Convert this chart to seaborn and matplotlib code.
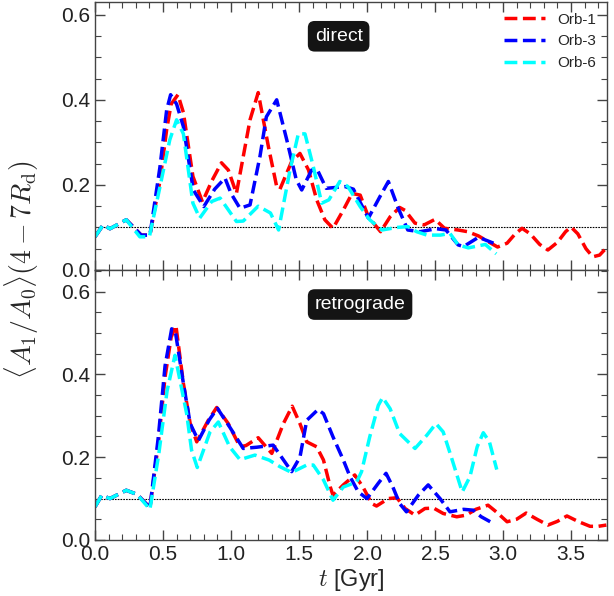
import numpy as np
import pandas as pd
import matplotlib
matplotlib.use("Agg")
import matplotlib.pyplot as plt
from matplotlib.ticker import MultipleLocator
import seaborn as sns

# ---------------- data ----------------
# direct (top panel)
t_dir_orb1 = [0, 0.06, 0.11, 0.23, 0.34, 0.404, 0.478, 0.527, 0.56, 0.61, 0.65, 0.72, 0.79, 0.86, 0.93,
              0.98, 1.04, 1.14, 1.20, 1.275, 1.336, 1.36, 1.446, 1.507, 1.57, 1.63, 1.69, 1.75, 1.826, 1.89,
              1.95, 2.01, 2.10, 2.17, 2.24, 2.28, 2.353, 2.42, 2.50, 2.57, 2.67, 2.74, 2.82, 2.90, 2.96,
              3.03, 3.09, 3.14, 3.20, 3.27, 3.33, 3.40, 3.46, 3.50, 3.55, 3.61, 3.66, 3.71, 3.76]
a_dir_orb1 = [0.078, 0.106, 0.097, 0.118, 0.082, 0.082, 0.21, 0.33, 0.39, 0.412, 0.37, 0.22, 0.16, 0.21, 0.252,
              0.235, 0.18, 0.353, 0.417, 0.29, 0.196, 0.19, 0.255, 0.274, 0.235, 0.165, 0.118, 0.098, 0.141, 0.18,
              0.176, 0.125, 0.09, 0.125, 0.147, 0.14, 0.11, 0.106, 0.119, 0.098, 0.094, 0.09, 0.08, 0.065, 0.054,
              0.063, 0.085, 0.098, 0.085, 0.06, 0.047, 0.065, 0.09, 0.101, 0.085, 0.05, 0.031, 0.035, 0.052]

t_dir_orb3 = [0, 0.06, 0.11, 0.23, 0.34, 0.404, 0.478, 0.527, 0.556, 0.60, 0.65, 0.723, 0.80, 0.88, 0.956,
              1.00, 1.066, 1.14, 1.213, 1.26, 1.336, 1.41, 1.48, 1.52, 1.593, 1.64, 1.70, 1.84, 1.90, 2.01,
              2.096, 2.157, 2.23, 2.30, 2.39, 2.51, 2.58, 2.67, 2.71, 2.82, 2.93]
a_dir_orb3 = [0.078, 0.106, 0.097, 0.118, 0.082, 0.082, 0.243, 0.376, 0.412, 0.39, 0.337, 0.188, 0.149, 0.19, 0.216,
              0.18, 0.145, 0.153, 0.267, 0.36, 0.40, 0.306, 0.212, 0.188, 0.235, 0.232, 0.192, 0.196, 0.19, 0.122,
              0.173, 0.208, 0.145, 0.094, 0.09, 0.097, 0.094, 0.059, 0.055, 0.077, 0.063]

t_dir_orb6 = [0, 0.06, 0.11, 0.23, 0.33, 0.40, 0.478, 0.55, 0.60, 0.65, 0.72, 0.77, 0.858, 0.92, 1.04,
              1.09, 1.20, 1.29, 1.35, 1.434, 1.495, 1.544, 1.605, 1.667, 1.72, 1.80, 1.86, 1.95, 2.02, 2.11,
              2.22, 2.30, 2.365, 2.44, 2.54, 2.61, 2.67, 2.745, 2.87, 2.95]
a_dir_orb6 = [0.078, 0.106, 0.097, 0.118, 0.078, 0.078, 0.196, 0.306, 0.353, 0.32, 0.157, 0.122, 0.161, 0.169, 0.114,
              0.115, 0.15, 0.134, 0.094, 0.235, 0.32, 0.32, 0.243, 0.157, 0.165, 0.208, 0.196, 0.149, 0.118, 0.094,
              0.10, 0.102, 0.09, 0.082, 0.082, 0.086, 0.059, 0.052, 0.06, 0.038]

# retrograde (bottom panel)
t_ret_orb1 = [0, 0.05, 0.11, 0.23, 0.31, 0.404, 0.466, 0.515, 0.56, 0.595, 0.65, 0.70, 0.748, 0.833, 0.895,
              0.98, 1.066, 1.11, 1.20, 1.30, 1.385, 1.45, 1.507, 1.557, 1.63, 1.68, 1.73, 1.75, 1.826, 1.91,
              1.97, 2.035, 2.07, 2.157, 2.22, 2.28, 2.353, 2.426, 2.49, 2.56, 2.66, 2.73, 2.80, 2.89, 2.95,
              3.03, 3.10, 3.17, 3.25, 3.33, 3.40, 3.47, 3.55, 3.64, 3.70, 3.76]
a_ret_orb1 = [0.08, 0.108, 0.10, 0.12, 0.11, 0.078, 0.233, 0.393, 0.49, 0.518, 0.378, 0.281, 0.237, 0.289, 0.32,
              0.281, 0.225, 0.228, 0.247, 0.209, 0.281, 0.323, 0.281, 0.237, 0.225, 0.193, 0.128, 0.108, 0.133, 0.157,
              0.128, 0.088, 0.082, 0.10, 0.102, 0.076, 0.06, 0.076, 0.077, 0.064, 0.056, 0.06, 0.074, 0.084, 0.068,
              0.044, 0.05, 0.065, 0.05, 0.036, 0.045, 0.058, 0.045, 0.033, 0.033, 0.036]

t_ret_orb3 = [0, 0.05, 0.11, 0.23, 0.31, 0.404, 0.466, 0.515, 0.564, 0.59, 0.65, 0.70, 0.76, 0.84, 0.90,
              0.99, 1.09, 1.19, 1.31, 1.446, 1.507, 1.557, 1.64, 1.68, 1.75, 1.826, 1.875, 1.936, 2.00, 2.083,
              2.14, 2.19, 2.24, 2.29, 2.377, 2.45, 2.537, 2.61, 2.71, 2.78, 2.84, 2.917, 2.94]
a_ret_orb3 = [0.08, 0.108, 0.10, 0.12, 0.11, 0.078, 0.25, 0.42, 0.51, 0.505, 0.378, 0.281, 0.24, 0.29, 0.318,
              0.273, 0.221, 0.224, 0.229, 0.165, 0.20, 0.289, 0.315, 0.305, 0.249, 0.193, 0.153, 0.116, 0.10, 0.137,
              0.161, 0.128, 0.088, 0.068, 0.108, 0.133, 0.10, 0.068, 0.074, 0.072, 0.056, 0.042, 0.042]

t_ret_orb6 = [0, 0.05, 0.11, 0.23, 0.31, 0.404, 0.47, 0.53, 0.588, 0.674, 0.71, 0.752, 0.846, 0.907, 0.99,
              1.066, 1.176, 1.28, 1.36, 1.446, 1.557, 1.605, 1.68, 1.75, 1.826, 1.924, 1.96, 2.02, 2.083, 2.115,
              2.17, 2.24, 2.353, 2.44, 2.507, 2.56, 2.62, 2.70, 2.757, 2.81, 2.855, 2.90, 2.954]
a_ret_orb6 = [0.08, 0.108, 0.10, 0.12, 0.11, 0.074, 0.21, 0.36, 0.446, 0.305, 0.217, 0.175, 0.261, 0.285, 0.225,
              0.194, 0.205, 0.193, 0.177, 0.163, 0.181, 0.181, 0.145, 0.096, 0.128, 0.14, 0.165, 0.249, 0.325, 0.344,
              0.317, 0.257, 0.221, 0.253, 0.281, 0.261, 0.20, 0.116, 0.153, 0.225, 0.259, 0.237, 0.17]

orbit_labels = ["Orb-1", "Orb-3", "Orb-6"]
panel_labels = ["direct", "retrograde"]
threshold = 0.1

# ---------------- style ----------------
sns.set_style("ticks")
plt.rcParams["font.family"] = ["Liberation Sans", "DejaVu Sans"]
plt.rcParams["mathtext.fontset"] = "cm"

colors = {"Orb-1": "red", "Orb-3": "blue", "Orb-6": "cyan"}

def make_df(ts, as_):
    frames = []
    for lab, t, a in zip(orbit_labels, ts, as_):
        d = pd.DataFrame({"t": t, "A": a})
        d["orbit"] = lab
        frames.append(d)
    return pd.concat(frames, ignore_index=True)

df_dir = make_df([t_dir_orb1, t_dir_orb3, t_dir_orb6], [a_dir_orb1, a_dir_orb3, a_dir_orb6])
df_ret = make_df([t_ret_orb1, t_ret_orb3, t_ret_orb6], [a_ret_orb1, a_ret_orb3, a_ret_orb6])

fig = plt.figure(figsize=(6.14, 5.96), dpi=100)
ax_top = fig.add_axes([0.1547, 0.547, 0.834, 0.4497])
ax_bot = fig.add_axes([0.1547, 0.094, 0.834, 0.453])

spine_col = "#444444"
for ax, df, lab, ymax, show_leg in [(ax_top, df_dir, panel_labels[0], 0.63, True),
                                    (ax_bot, df_ret, panel_labels[1], 0.652, False)]:
    sns.lineplot(data=df, x="t", y="A", hue="orbit", palette=colors, hue_order=orbit_labels,
                 estimator=None, sort=False, units="orbit", linewidth=2.5,
                 ax=ax, legend=show_leg)
    for line in ax.get_lines():
        line.set_linestyle("--")
        line.set_solid_joinstyle("round")
    ax.axhline(threshold, color="black", linestyle=(0, (1.5, 1.0)), linewidth=0.8, zorder=0)
    ax.set_xlim(0, 3.765)
    ax.set_ylim(0, ymax)
    ax.xaxis.set_major_locator(MultipleLocator(0.5))
    ax.xaxis.set_minor_locator(MultipleLocator(0.1))
    ax.yaxis.set_major_locator(MultipleLocator(0.2))
    ax.yaxis.set_minor_locator(MultipleLocator(0.05))
    ax.tick_params(which="both", direction="in", top=True, right=True, color=spine_col,
                   labelsize=15, labelcolor="#222222")
    ax.tick_params(which="major", length=7, width=1.0)
    ax.tick_params(which="minor", length=4, width=0.8)
    for s in ax.spines.values():
        s.set_color(spine_col)
        s.set_linewidth(1.0)
    ax.set_xlabel("")
    ax.set_ylabel("")
    ax.text(1.615, ymax * 0.872, lab, ha="left", va="center", fontsize=14, color="white",
            bbox=dict(boxstyle="round,pad=0.35", facecolor="#141414", edgecolor="none"))

ax_top.tick_params(labelbottom=False)
ax_top.set_yticks([0.0, 0.2, 0.4, 0.6])
ax_bot.set_yticks([0.0, 0.2, 0.4, 0.6])
ax_top.set_yticklabels(["0.0", "0.2", "0.4", "0.6"])
ax_bot.set_yticklabels(["0.0", "0.2", "0.4", "0.6"])

leg = ax_top.legend(loc="upper right", frameon=False, fontsize=11, handlelength=2.7,
                    borderaxespad=0.3, labelspacing=0.5)
for h in leg.get_lines():
    h.set_linestyle("--")
    h.set_linewidth(2.5)

ax_bot.set_xlabel(r"$t$ [Gyr]", fontsize=17, labelpad=2)
fig.text(0.035, 0.547, r"$\langle A_1/A_0\rangle(4-7R_{\rm d})$", rotation=90,
         ha="center", va="center", fontsize=20)

fig.savefig("out.png", dpi=100)
